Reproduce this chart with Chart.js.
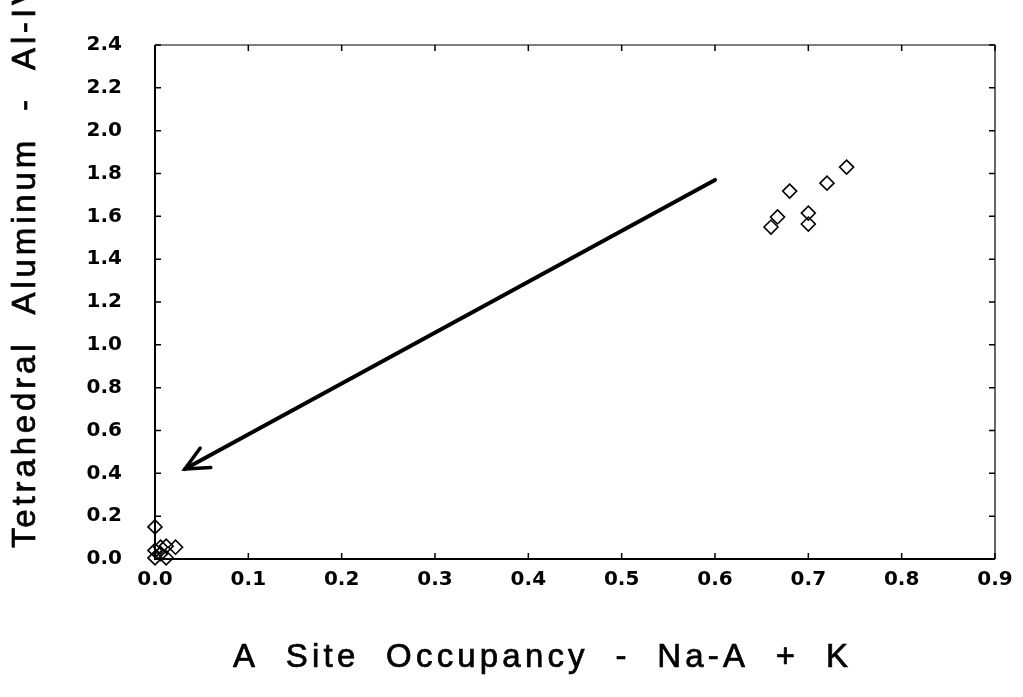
<!DOCTYPE html>
<html>
<head>
<meta charset="utf-8">
<script src="https://cdn.jsdelivr.net/npm/chart.js@4.4.0/dist/chart.umd.min.js"></script>
<style>
  html, body { margin: 0; padding: 0; background: #fff; }
  #wrap { width: 1023px; height: 697px; }
</style>
</head>
<body>
<div id="wrap"><canvas id="chart"></canvas></div>
<script>
// puntos medidos (A site occupancy vs Al-IV)
const occX = [0.741, 0.720, 0.680, 0.667, 0.660, 0.700, 0.700,
              0.000, 0.000, 0.006, 0.012, 0.022, 0.000, 0.012, 0.006];
const alY  = [1.830, 1.755, 1.718, 1.597, 1.550, 1.615, 1.564,
              0.150, 0.040, 0.055, 0.060, 0.055, 0.005, 0.005, 0.025];

// flecha: desde el grupo alto hacia el origen
const flechaX = [0.600, 0.032];
const flechaY = [1.770, 0.420];

const tituloX = 'A  Site  Occupancy  -  Na-A  +  K';
const tituloY = 'Tetrahedral  Aluminum  -  Al-IV';

const puntos = occX.map((x, i) => ({ x: x, y: alY[i] }));
const flecha = flechaX.map((x, i) => ({ x: x, y: flechaY[i] }));

// marco, ticks hacia adentro, punta de flecha y titulos
const marcoPlugin = {
  id: 'marco',
  afterDraw(chart) {
    const ctx = chart.ctx;
    const a = chart.chartArea;
    const sx = chart.scales.x, sy = chart.scales.y;
    ctx.save();
    ctx.strokeStyle = '#000';
    ctx.lineCap = 'butt';

    // bordes
    ctx.lineWidth = 2;
    ctx.beginPath();
    ctx.moveTo(a.left, a.top); ctx.lineTo(a.left, a.bottom); ctx.lineTo(a.right, a.bottom);
    ctx.stroke();
    ctx.lineWidth = 1.2;
    ctx.beginPath();
    ctx.moveTo(a.left, a.top); ctx.lineTo(a.right, a.top); ctx.lineTo(a.right, a.bottom);
    ctx.stroke();

    // ticks
    const len = 6;
    ctx.lineWidth = 1.5;
    ctx.beginPath();
    sx.ticks.forEach(t => {
      const px = sx.getPixelForValue(t.value);
      ctx.moveTo(px, a.bottom); ctx.lineTo(px, a.bottom - len);
      ctx.moveTo(px, a.top); ctx.lineTo(px, a.top + len);
    });
    sy.ticks.forEach(t => {
      const py = sy.getPixelForValue(t.value);
      ctx.moveTo(a.left, py); ctx.lineTo(a.left + len, py);
      ctx.moveTo(a.right, py); ctx.lineTo(a.right - len, py);
    });
    ctx.stroke();

    // punta de flecha abierta
    const x0 = sx.getPixelForValue(flechaX[0]), y0 = sy.getPixelForValue(flechaY[0]);
    const x1 = sx.getPixelForValue(flechaX[1]), y1 = sy.getPixelForValue(flechaY[1]);
    const ang = Math.atan2(y0 - y1, x0 - x1);
    const L = 26, abre = 0.44;
    ctx.lineWidth = 3.5;
    ctx.lineCap = 'round';
    ctx.beginPath();
    ctx.moveTo(x1 + L * Math.cos(ang - abre), y1 + L * Math.sin(ang - abre));
    ctx.lineTo(x1, y1);
    ctx.lineTo(x1 + L * Math.cos(ang + abre), y1 + L * Math.sin(ang + abre));
    ctx.stroke();

    // titulos de ejes
    ctx.fillStyle = '#000';
    ctx.lineWidth = 0.7;
    ctx.lineCap = 'butt';
    ctx.font = '33px "Liberation Sans", Arial, sans-serif';
    ctx.textBaseline = 'alphabetic';
    ctx.textAlign = 'left';
    const ajusta = (txt, ancho) => {
      ctx.letterSpacing = '0px';
      const w = ctx.measureText(txt).width;
      return (ancho - w) / (txt.length - 1);
    };
    let esp = ajusta(tituloX, 615);
    ctx.letterSpacing = esp + 'px';
    ctx.fillText(tituloX, 233, 667);
    ctx.strokeText(tituloX, 233, 667);

    esp = ajusta(tituloY, 565);
    ctx.save();
    ctx.translate(35, 548);
    ctx.rotate(-Math.PI / 2);
    ctx.letterSpacing = esp + 'px';
    ctx.fillText(tituloY, 0, 0);
    ctx.strokeText(tituloY, 0, 0);
    ctx.restore();

    ctx.restore();
  }
};

const fuenteTicks = { family: '"DejaVu Sans", sans-serif', size: 20, weight: 'bold' };

new Chart(document.getElementById('chart'), {
  type: 'scatter',
  data: {
    datasets: [
      {
        label: 'flecha',
        data: flecha,
        showLine: true,
        borderColor: '#000',
        borderWidth: 4,
        pointRadius: 0,
        borderCapStyle: 'round'
      },
      {
        label: 'Al-IV',
        data: puntos,
        pointStyle: 'rectRot',
        pointRadius: 7,
        pointBorderWidth: 1.6,
        pointBorderColor: '#000',
        pointBackgroundColor: 'rgba(255,255,255,0)',
        clip: false
      }
    ]
  },
  options: {
    responsive: true,
    maintainAspectRatio: false,
    animation: false,
    layout: { padding: { top: 45, right: 28, left: 0, bottom: 0 } },
    plugins: {
      legend: { display: false },
      tooltip: { enabled: false }
    },
    scales: {
      x: {
        type: 'linear',
        min: 0, max: 0.9,
        grid: { display: false },
        border: { display: false },
        ticks: {
          stepSize: 0.1,
          color: '#000',
          font: fuenteTicks,
          padding: 1,
          maxRotation: 0,
          callback: v => Number(v).toFixed(1)
        },
        afterFit: s => { s.height = 138; }
      },
      y: {
        type: 'linear',
        min: 0, max: 2.4,
        grid: { display: false },
        border: { display: false },
        ticks: {
          stepSize: 0.2,
          color: '#000',
          font: fuenteTicks,
          padding: 25,
          callback: v => Number(v).toFixed(1)
        },
        afterFit: s => { s.width = 155; }
      }
    }
  },
  plugins: [marcoPlugin]
});
</script>
</body>
</html>
